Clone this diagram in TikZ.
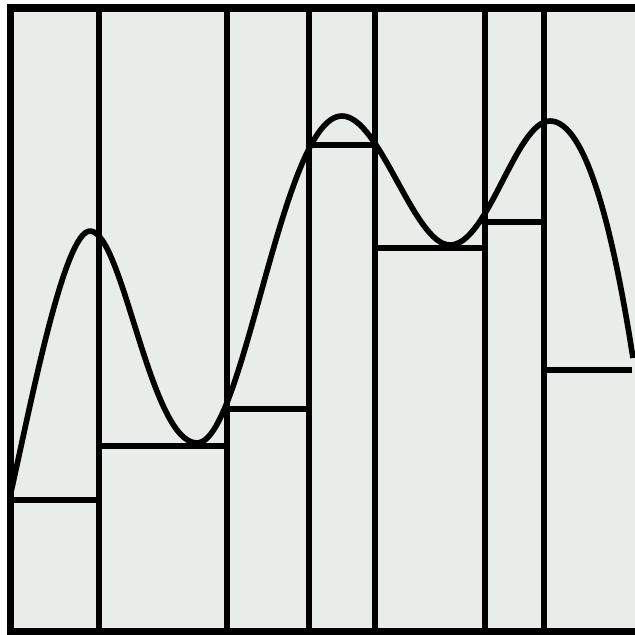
\documentclass[tikz,border=0pt]{standalone}
\usepackage{tikz}
\definecolor{paper}{RGB}{233,237,233}

\begin{document}
\begin{tikzpicture}[x=0.01cm,y=-0.01cm,
  frame/.style={draw=black,line width=2.2pt,fill=paper},
  rule/.style={draw=black,line width=1.6pt},
  curve/.style={draw=black,line width=1.6pt,line join=round}]
  \useasboundingbox (0,0) rectangle (635,635);
  \clip (0,0) rectangle (635,635);
  \path[frame] (10.5,8) rectangle (639,632);
  % dividers
  \foreach \x in {99,227,309,375,485,544}
    \draw[rule] (\x,8) -- (\x,632);
  % step heights
  \foreach \a/\b/\y in {10.5/99/500,99/227/446,227/309/409,309/375/145,375/485/248,485/544/222,544/632/370}
    \draw[rule] (\a,\y) -- (\b,\y);
  % the function
  \coordinate (start) at (11,492);
  \coordinate (peakA) at (90,231);
  \coordinate (lowA) at (197,443);
  \coordinate (peakB) at (342,116);
  \coordinate (lowB) at (450,245);
  \coordinate (peakC) at (550,121);
  \coordinate (stop) at (633,358);
  \draw[curve] (start) .. controls (30,408) and (64,231) .. (peakA)
    .. controls (123,231) and (150,443) .. (lowA)
    .. controls (244,443) and (282,116) .. (peakB)
    .. controls (380,116) and (414,245) .. (lowB)
    .. controls (488,245) and (516,121) .. (peakC)
    .. controls (586,121) and (613,230) .. (stop);
\end{tikzpicture}
\end{document}
